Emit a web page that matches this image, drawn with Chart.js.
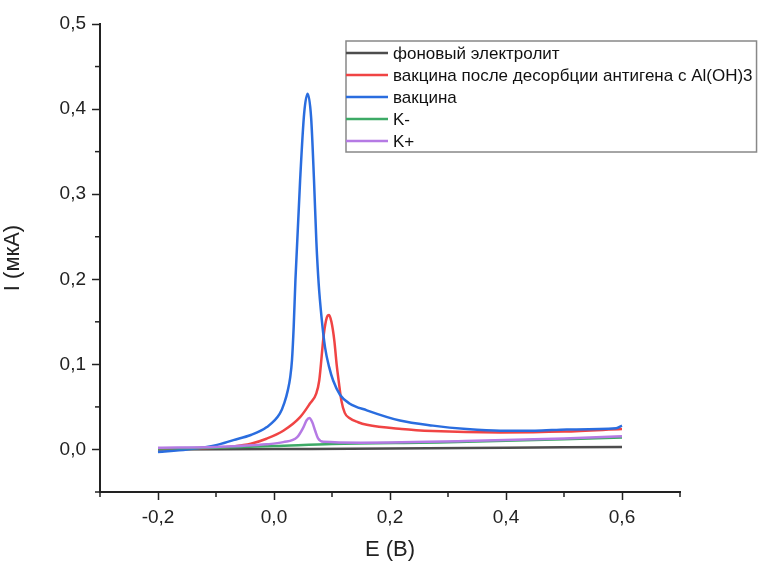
<!DOCTYPE html>
<html>
<head>
<meta charset="utf-8">
<script src="https://cdn.jsdelivr.net/npm/chart.js@4"></script>
<style>
  html, body { margin: 0; padding: 0; background: #fff; }
</style>
</head>
<body>
<canvas id="cv-chart" width="766" height="563"></canvas>
<script>
// series names and colours (legend order)
const seriesLabels = [
  "фоновый электролит",
  "вакцина после десорбции антигена с Al(OH)3",
  "вакцина",
  "K-",
  "K+",
];
const seriesColors = ["#4d4d4d", "#f04444", "#2a6ddf", "#3daa66", "#b57ae4"];

// фоновый электролит
const fonE = [-0.2, 0.0, 0.2, 0.4, 0.6];
const fonI = [0.0, 0.0005, 0.001, 0.002, 0.003];

// вакцина после десорбции
const desE = [-0.2, -0.1, -0.07, -0.04, -0.013, 0.016, 0.045, 0.062, 0.073, 0.078, 0.086, 0.091, 0.095, 0.099, 0.104, 0.108, 0.112, 0.116, 0.122, 0.13, 0.145, 0.16, 0.22, 0.274, 0.39, 0.5, 0.6];
const desI = [0.001, 0.002, 0.0035, 0.0067, 0.0126, 0.022, 0.038, 0.054, 0.066, 0.081, 0.136, 0.155, 0.158, 0.15, 0.128, 0.1, 0.078, 0.058, 0.043, 0.037, 0.032, 0.029, 0.024, 0.0216, 0.02, 0.021, 0.024];

// вакцина
const vacE = [-0.2, -0.15, -0.1, -0.07, -0.04, -0.013, 0.01, 0.018, 0.024, 0.028, 0.031, 0.034, 0.037, 0.045, 0.052, 0.058, 0.064, 0.069, 0.073, 0.077, 0.082, 0.088, 0.095, 0.102, 0.114, 0.13, 0.16, 0.217, 0.274, 0.332, 0.39, 0.45, 0.505, 0.59, 0.6];
const vacI = [-0.003, 0.0, 0.005, 0.011, 0.017, 0.026, 0.042, 0.055, 0.07, 0.085, 0.105, 0.145, 0.2, 0.316, 0.395, 0.418, 0.39, 0.316, 0.245, 0.195, 0.155, 0.12, 0.097, 0.081, 0.064, 0.054, 0.046, 0.034, 0.028, 0.024, 0.022, 0.022, 0.0235, 0.025, 0.028];

// K-
const kMinusE = [-0.2, -0.1, 0.0, 0.1, 0.3, 0.6];
const kMinusI = [0.001, 0.002, 0.004, 0.0065, 0.0085, 0.014];

// K+
const kPlusE = [-0.2, -0.1, -0.013, 0.016, 0.04, 0.05, 0.056, 0.061, 0.066, 0.071, 0.076, 0.085, 0.15, 0.33, 0.5, 0.6];
const kPlusI = [0.002, 0.003, 0.006, 0.0086, 0.0145, 0.025, 0.034, 0.037, 0.032, 0.022, 0.013, 0.009, 0.008, 0.0098, 0.013, 0.0156];

// axis ticks
const xMajor = [-0.2, 0.0, 0.2, 0.4, 0.6];
const xMinor = [-0.3, -0.1, 0.1, 0.3, 0.5, 0.7];
const yMajor = [0.0, 0.1, 0.2, 0.3, 0.4, 0.5];
const yMinor = [-0.05, 0.05, 0.15, 0.25, 0.35, 0.45];

const allE = [fonE, desE, vacE, kMinusE, kPlusE];
const allI = [fonI, desI, vacI, kMinusI, kPlusI];

const axisColor = "#222";
const fontFamily = "'Liberation Sans', Arial, sans-serif";

function fmt(v) {
  if (Math.abs(v) < 1e-9) v = 0;
  return v.toFixed(1).replace(".", ",");
}

const datasets = seriesLabels.map((label, i) => ({
  label: label,
  data: allE[i].map((e, j) => ({ x: e, y: allI[i][j] })),
  borderColor: seriesColors[i],
  borderWidth: 2.5,
  pointRadius: 0,
  fill: false,
  cubicInterpolationMode: "monotone",
  order: seriesLabels.length - i,
}));

// minor tick marks, Origin style (outside the axes)
const minorTicks = {
  id: "minorTicks",
  afterDraw(chart) {
    const ctx = chart.ctx;
    const xs = chart.scales.x;
    const ys = chart.scales.y;
    ctx.save();
    ctx.strokeStyle = axisColor;
    ctx.lineWidth = 1.5;
    xMinor.forEach((v) => {
      const px = xs.getPixelForValue(v);
      ctx.beginPath();
      ctx.moveTo(px, xs.top);
      ctx.lineTo(px, xs.top + 5);
      ctx.stroke();
    });
    yMinor.forEach((v) => {
      const py = ys.getPixelForValue(v);
      ctx.beginPath();
      ctx.moveTo(ys.right, py);
      ctx.lineTo(ys.right - 5, py);
      ctx.stroke();
    });
    ctx.restore();
  },
};

// boxed legend inside the plot
const boxLegend = {
  id: "boxLegend",
  afterDraw(chart) {
    const ctx = chart.ctx;
    const left = 346, top = 41, rowH = 22, lineW = 42;
    ctx.save();
    ctx.font = "17px " + fontFamily;
    let maxW = 0;
    chart.data.datasets.forEach((ds) => {
      maxW = Math.max(maxW, ctx.measureText(ds.label).width);
    });
    const w = lineW + 5 + maxW + 4;
    const h = rowH * chart.data.datasets.length + 1;
    ctx.fillStyle = "#fff";
    ctx.fillRect(left, top, w, h);
    ctx.strokeStyle = "#888";
    ctx.lineWidth = 1.5;
    ctx.strokeRect(left, top, w, h);
    ctx.textBaseline = "middle";
    chart.data.datasets.forEach((ds, i) => {
      const cy = top + 12 + i * rowH;
      ctx.strokeStyle = ds.borderColor;
      ctx.lineWidth = 2.5;
      ctx.beginPath();
      ctx.moveTo(left, cy);
      ctx.lineTo(left + lineW, cy);
      ctx.stroke();
      ctx.fillStyle = "#111";
      ctx.fillText(ds.label, left + lineW + 5, cy + 1);
    });
    ctx.restore();
  },
};

const config = {
  type: "line",
  data: { datasets: datasets },
  options: {
    responsive: false,
    animation: false,
    layout: { padding: { top: 24, right: 86, bottom: 0, left: 0 } },
    plugins: {
      legend: { display: false },
      tooltip: { enabled: false },
    },
    scales: {
      x: {
        type: "linear",
        min: -0.3,
        max: 0.7,
        afterBuildTicks: (scale) => {
          scale.ticks = xMajor.map((v) => ({ value: v }));
        },
        afterFit: (scale) => {
          scale.height = 71;
        },
        ticks: {
          callback: (v) => fmt(v),
          color: "#222",
          font: { family: fontFamily, size: 19 },
          padding: 6,
          maxRotation: 0,
        },
        grid: {
          drawOnChartArea: false,
          drawTicks: true,
          tickLength: 8,
          tickColor: axisColor,
          tickWidth: 1.5,
        },
        border: { display: true, color: axisColor, width: 2 },
        title: {
          display: true,
          text: "E (B)",
          color: "#222",
          font: { family: fontFamily, size: 22 },
          padding: { top: 4, bottom: 0 },
        },
      },
      y: {
        type: "linear",
        min: -0.05,
        max: 0.5,
        afterBuildTicks: (scale) => {
          scale.ticks = yMajor.map((v) => ({ value: v }));
        },
        afterFit: (scale) => {
          scale.width = 100;
        },
        ticks: {
          callback: (v) => fmt(v),
          color: "#222",
          font: { family: fontFamily, size: 19 },
          padding: 6,
        },
        grid: {
          drawOnChartArea: false,
          drawTicks: true,
          tickLength: 8,
          tickColor: axisColor,
          tickWidth: 1.5,
        },
        border: { display: true, color: axisColor, width: 2 },
        title: {
          display: true,
          text: "I (мкА)",
          color: "#222",
          font: { family: fontFamily, size: 22 },
          padding: { top: 0, bottom: 4 },
        },
      },
    },
  },
  plugins: [minorTicks, boxLegend],
};

const chart = new Chart(document.getElementById("cv-chart"), config);
</script>
</body>
</html>
